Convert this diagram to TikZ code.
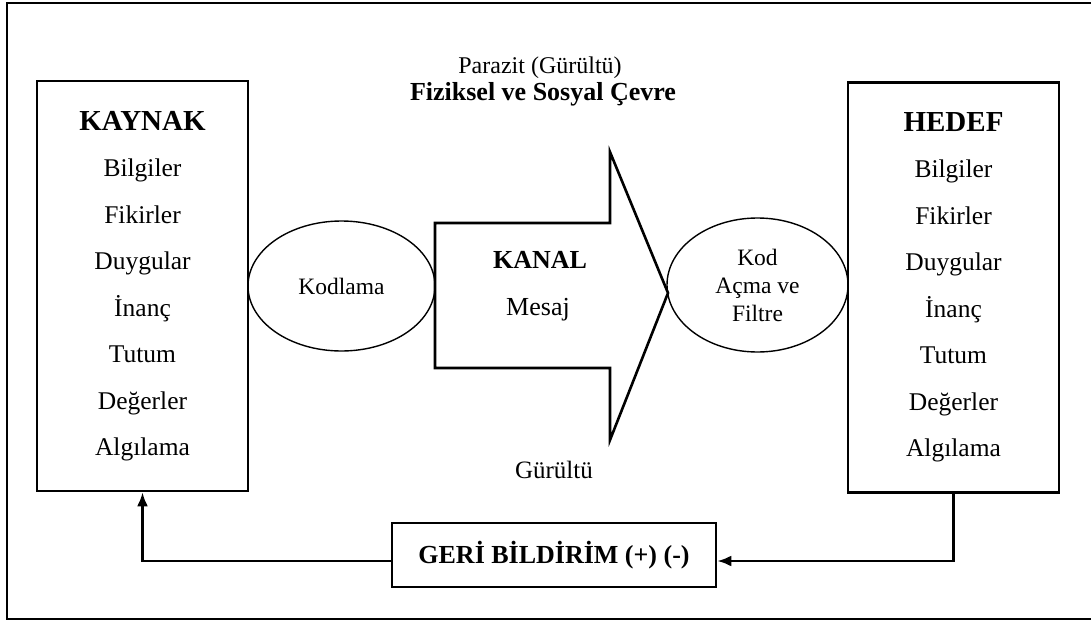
\documentclass[tikz,border=0pt]{standalone}
\usepackage{fontspec}
\setmainfont{Liberation Serif}
\usetikzlibrary{shapes.geometric,arrows.meta}

\tikzset{
    listbox/.style={draw, line width=2.6pt, minimum width=211pt, minimum height=410pt,
        inner sep=0pt, align=center, font=\fontsize{25.5}{46.5}\selectfont},
    oval/.style={draw, ellipse, line width=1.4pt, inner sep=0pt, align=center,
        font=\fontsize{23.5}{28}\selectfont},
    plain/.style={inner sep=0pt, font=\fontsize{24}{28}\selectfont},
    fbline/.style={line width=2.6pt, -{Latex[length=14pt,width=11pt]}},
}

\begin{document}
\begin{tikzpicture}[x=1pt, y=-1pt]
    \useasboundingbox (0,0) rectangle (1091,623);

    % outer frame, its right side runs off the page
    \draw[line width=2.6pt] (1100,3) -- (7,3) -- (7,619) -- (1100,619);

    \node[listbox] (kaynak) at (142.5,286) {{\bfseries\fontsize{29}{46.5}\selectfont KAYNAK}\\
        Bilgiler\\ Fikirler\\ Duygular\\ İnanç\\ Tutum\\ Değerler\\ Algılama};
    \node[listbox] (hedef) at (953.5,287.5) {{\bfseries\fontsize{29}{46.5}\selectfont HEDEF}\\
        Bilgiler\\ Fikirler\\ Duygular\\ İnanç\\ Tutum\\ Değerler\\ Algılama};

    % channel arrow
    \draw[line width=2.6pt] (435,223) -- (610,223) -- (610,152) -- (668,293)
        -- (610,440) -- (610,368) -- (435,368) -- cycle;
    \node[plain, font=\bfseries\fontsize{26}{28}\selectfont] (kanal) at (540,260) {KANAL};
    \node[plain, font=\fontsize{26}{28}\selectfont] (mesaj) at (538,310) {Mesaj};

    \node[oval, minimum width=187pt, minimum height=130pt] (kodlama) at (341.5,286) {Kodlama};
    \node[oval, minimum width=181pt, minimum height=134pt] (filtre) at (757.5,285) {Kod\\ Açma ve\\ Filtre};

    \node[plain] (parazit) at (540,68) {Parazit (Gürültü)};
    \node[plain, font=\bfseries\fontsize{26}{28}\selectfont] (cevre) at (543,94) {Fiziksel ve Sosyal Çevre};
    \node[plain, font=\fontsize{25}{28}\selectfont] (gurultu) at (554,470) {Gürültü};

    % feedback loop
    \node[draw, line width=2.6pt, minimum width=324pt, minimum height=64pt, inner sep=0pt,
        font=\bfseries\fontsize{26}{28}\selectfont] (geri) at (554,555) {GERİ BİLDİRİM (+) (-)};
    \draw[fbline] (hedef.south) |- ([yshift=-6pt]geri.east);
    \draw[fbline] ([yshift=-6pt]geri.west) -| (kaynak.south);
\end{tikzpicture}
\end{document}
